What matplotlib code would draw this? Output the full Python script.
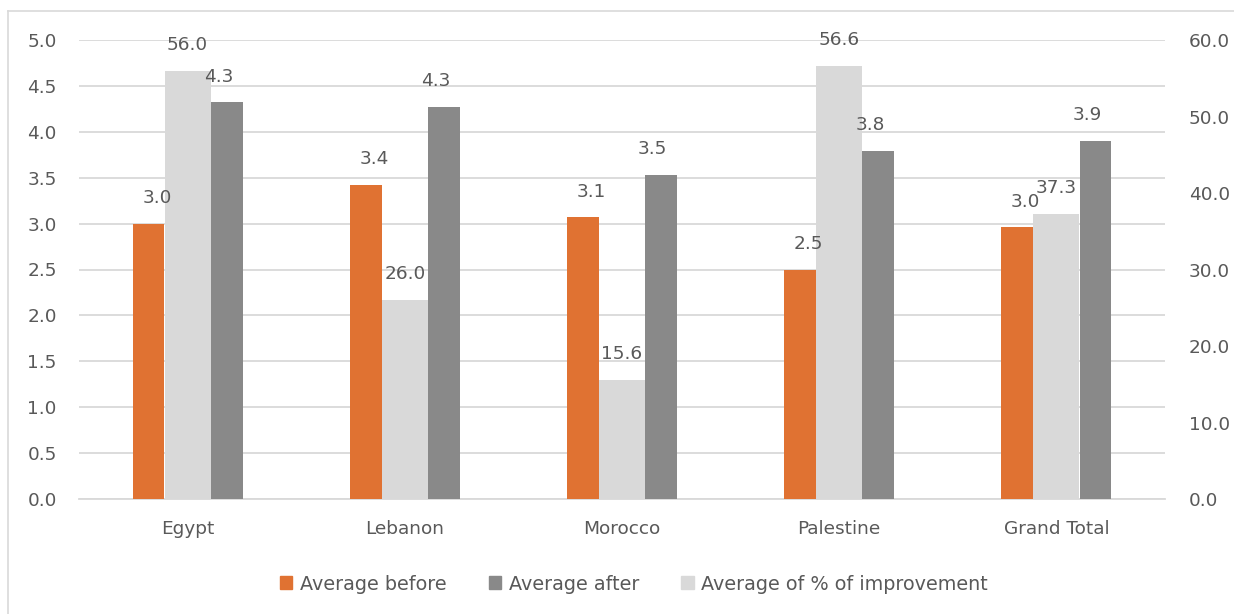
import matplotlib
matplotlib.use("Agg")
import matplotlib.pyplot as plt
from matplotlib.patches import Patch
from matplotlib.lines import Line2D
import numpy as np

categories = ["Egypt", "Lebanon", "Morocco", "Palestine", "Grand Total"]
avg_before = [3.00, 3.42, 3.07, 2.50, 2.96]
avg_after = [4.32, 4.27, 3.53, 3.79, 3.90]
avg_improvement = [56.0, 26.0, 15.6, 56.6, 37.3]
left_ticks = [0.0, 0.5, 1.0, 1.5, 2.0, 2.5, 3.0, 3.5, 4.0, 4.5, 5.0]
right_ticks = [0, 10, 20, 30, 40, 50, 60]

ORANGE = "#E07232"
DARK = "#898989"
LIGHT = "#D9D9D9"
TEXT = "#595959"
GRID = "#D9D9D9"

plt.rcParams["font.family"] = ["DejaVu Sans"]
FS = 13.3

fig = plt.figure(figsize=(12.34, 6.14), dpi=100)
W, H = 1234, 614
ax = fig.add_axes([79 / W, 1 - 499 / H, (1165 - 79) / W, (499 - 40) / H])
ax2 = ax.twinx()

x = np.arange(len(categories))
off = 0.18
wp = 0.147
ws = 0.212

b1 = ax.bar(x - off, avg_before, width=wp, color=ORANGE, zorder=3)
b2 = ax.bar(x + off, avg_after, width=wp, color=DARK, zorder=3)
b3 = ax2.bar(x, avg_improvement, width=ws, color=LIGHT, zorder=3)

ax.set_xlim(-0.5, len(categories) - 0.5)
ax.set_ylim(0, 5)
ax2.set_ylim(0, 60)
ax.set_yticks(left_ticks)
ax.set_yticklabels([f"{t:.1f}" for t in left_ticks])
ax2.set_yticks(right_ticks)
ax2.set_yticklabels([f"{t:.1f}" for t in right_ticks])
ax.set_xticks(x)
ax.set_xticklabels(categories)

ax.grid(axis="y", color=GRID, linewidth=1.3, zorder=0)
ax.set_axisbelow(True)
for a in (ax, ax2):
    for s in a.spines.values():
        s.set_visible(False)
    a.tick_params(length=0, labelsize=FS, labelcolor=TEXT)
ax.tick_params(axis="y", pad=16)
ax2.tick_params(axis="y", pad=17)
ax.tick_params(axis="x", pad=15)
ax.spines["bottom"].set_visible(True)
ax.spines["bottom"].set_color(GRID)
ax.spines["bottom"].set_linewidth(1.3)

# all labels drawn on the top axes so that they sit above every bar
for xi, v in zip(x, avg_before):
    ax2.annotate(f"{v:.1f}", (xi - off, v), xycoords=ax.transData, xytext=(6, 12),
                 textcoords="offset points", ha="center", va="bottom", fontsize=FS,
                 color=TEXT, zorder=5)
for xi, v in zip(x, avg_after):
    ax2.annotate(f"{v:.1f}", (xi + off, v), xycoords=ax.transData, xytext=(-6, 12),
                 textcoords="offset points", ha="center", va="bottom", fontsize=FS,
                 color=TEXT, zorder=5)
for xi, v in zip(x, avg_improvement):
    ax2.annotate(f"{v:.1f}", (xi, v), xytext=(0, 12), textcoords="offset points",
                 ha="center", va="bottom", fontsize=FS, color=TEXT, zorder=5)

handles = [Patch(color=ORANGE), Patch(color=DARK), Patch(color=LIGHT)]
labels = ["Average before", "Average after", "Average of % of improvement"]
fig.legend(handles, labels, loc="center", bbox_to_anchor=(634 / W, 1 - 584 / H), ncol=3,
           frameon=False, fontsize=13.8, labelcolor=TEXT, handlelength=0.65, handleheight=0.65,
           handletextpad=0.4, columnspacing=2.2)

# chart border
fig.add_artist(Line2D([8 / W, 8 / W], [0, 1 - 11 / H], transform=fig.transFigure, color="#D9D9D9", lw=1.2))
fig.add_artist(Line2D([8 / W, 1], [1 - 11 / H, 1 - 11 / H], transform=fig.transFigure, color="#D9D9D9", lw=1.2))

fig.savefig("out.png", dpi=100, facecolor="white")
